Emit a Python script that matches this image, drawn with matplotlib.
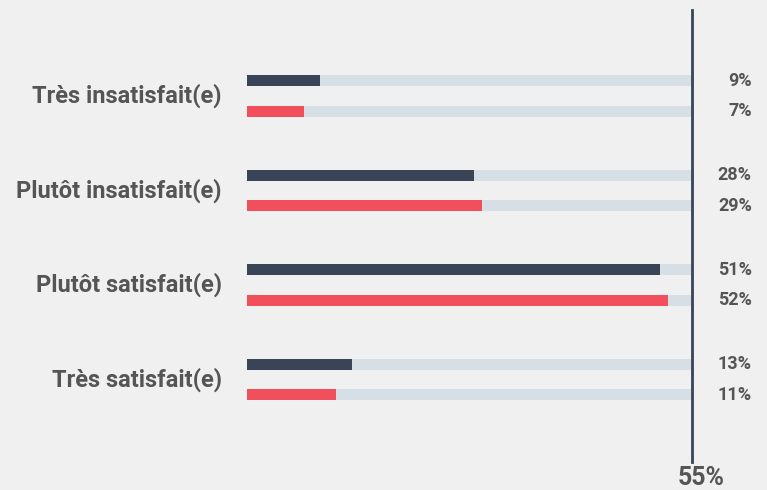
import matplotlib
matplotlib.use("Agg")
import matplotlib.pyplot as plt
import matplotlib.transforms as mtransforms

plt.rcParams["font.family"] = ["Roboto", "DejaVu Sans"]

# données
categories = ["Très insatisfait(e)", "Plutôt insatisfait(e)",
              "Plutôt satisfait(e)", "Très satisfait(e)"]
serie_a = [9, 28, 51, 13]   # barres foncées
serie_b = [7, 29, 52, 11]   # barres rouges
max_val = 55
max_label = "55%"

bg = "#f0f0f0"
dark = "#394456"
red = "#f04f5b"
track = "#d6dee6"
txt = "#555555"

fig = plt.figure(figsize=(7.67, 4.90), dpi=100, facecolor=bg)
ax = fig.add_axes([247 / 767, 28 / 490, 445 / 767, 452 / 490])
ax.set_facecolor(bg)

off = 0.162
h = 0.118
for i, (a, b) in enumerate(zip(serie_a, serie_b)):
    ax.barh(i - off, max_val, height=h, color=track, zorder=1)
    ax.barh(i + off, max_val, height=h, color=track, zorder=1)
    ax.barh(i - off, a, height=h, color=dark, zorder=2)
    ax.barh(i + off, b, height=h, color=red, zorder=2)
    ax.text(62.4, i - off, "%d%%" % a, ha="right", va="center",
            fontsize=13, fontweight="bold", color=txt, clip_on=False)
    ax.text(62.4, i + off, "%d%%" % b, ha="right", va="center",
            fontsize=13, fontweight="bold", color=txt, clip_on=False)
    ax.text(-3.1, i, categories[i], ha="right", va="center",
            fontsize=17, fontweight="bold", color=txt, clip_on=False)

# ligne verticale du maximum
ax.axvline(max_val, color=dark, linewidth=2.0, zorder=3, clip_on=False)
trans = mtransforms.blended_transform_factory(ax.transData, fig.transFigure)
ax.text(max_val + 1.1, 12 / 490, max_label, transform=trans, ha="center",
        va="center", fontsize=18, fontweight="bold", color=txt)

ax.set_xlim(0, max_val)
ax.set_ylim(3.873, -0.910)
ax.axis("off")

plt.savefig("out.png", dpi=100, facecolor=bg)
plt.close()
